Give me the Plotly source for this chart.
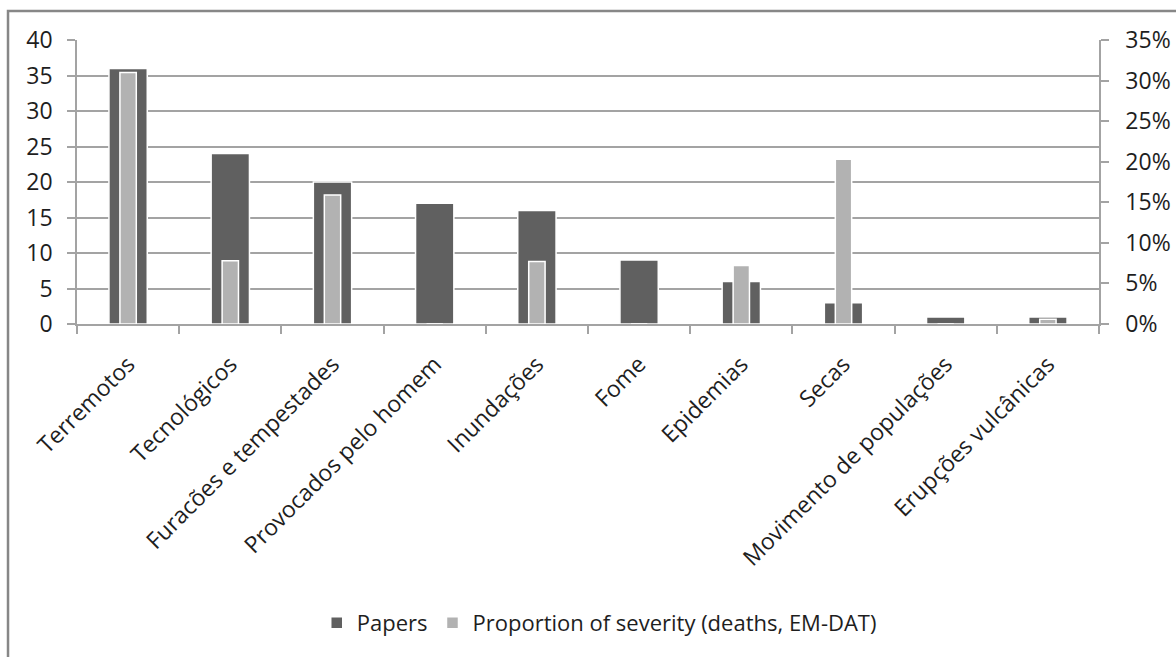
import plotly.graph_objects as go

categories = [
    "Terremotos", "Tecnológicos", "Furacões e tempestades", "Provocados pelo homem",
    "Inundações", "Fome", "Epidemias", "Secas", "Movimento de populações",
    "Erupções vulcânicas",
]
papers = [36, 24, 20, 17, 16, 9, 6, 3, 1, 1]
severity = [0.31, 0.078, 0.159, 0, 0.077, 0, 0.072, 0.203, 0, 0.006]

left_ticks = [0, 5, 10, 15, 20, 25, 30, 35, 40]
right_ticks = [0, 0.05, 0.10, 0.15, 0.20, 0.25, 0.30, 0.35]

FONT = "Open Sans"
AXIS_GREY = "#a3a3a3"
TEXT = "#1e1e1e"
TICK_SIZE = 23

fig = go.Figure()
fig.add_trace(go.Bar(
    x=categories, y=papers, name="Papers", yaxis="y",
    width=0.375, marker=dict(color="#606060", line=dict(color="white", width=1.5)),
))
fig.add_trace(go.Bar(
    x=categories, y=severity, name="Proportion of severity (deaths, EM-DAT)", yaxis="y2",
    width=0.16, marker=dict(color="#b2b2b2", line=dict(color="white", width=1.5)),
))

fig.update_layout(
    width=1176, height=657,
    margin=dict(l=77, r=77, t=40, b=333, autoexpand=False),
    paper_bgcolor="white", plot_bgcolor="white",
    barmode="overlay",
    font=dict(family=FONT, size=TICK_SIZE, color=TEXT),
    showlegend=True,
    legend=dict(
        orientation="h", x=0.511, xanchor="center", y=-1.053, yanchor="middle",
        font=dict(family=FONT, size=22, color=TEXT), itemwidth=30,
        bgcolor="rgba(0,0,0,0)",
    ),
    xaxis=dict(
        type="category", tickangle=-45, showgrid=False, automargin=False,
        showline=True, linecolor=AXIS_GREY, linewidth=1.5,
        ticks="outside", tickson="boundaries", ticklen=8, tickcolor=AXIS_GREY, tickwidth=1.5,
        tickfont=dict(family=FONT, size=TICK_SIZE, color=TEXT),
        ticklabelstandoff=16,
    ),
    yaxis=dict(
        range=[0, 40], tickvals=left_ticks, showgrid=True, gridcolor=AXIS_GREY, gridwidth=1.5,
        showline=True, linecolor=AXIS_GREY, linewidth=1.5, automargin=False,
        ticks="outside", ticklen=8, tickcolor=AXIS_GREY, tickwidth=1.5,
        tickfont=dict(family=FONT, size=TICK_SIZE, color=TEXT), zeroline=False,
        ticklabelstandoff=10,
    ),
    yaxis2=dict(
        range=[0, 0.35], tickvals=right_ticks, tickformat=".0%", overlaying="y", side="right",
        showgrid=False, showline=True, linecolor=AXIS_GREY, linewidth=1.5, automargin=False,
        ticks="outside", ticklen=8, tickcolor=AXIS_GREY, tickwidth=1.5,
        tickfont=dict(family=FONT, size=TICK_SIZE, color=TEXT), zeroline=False,
        ticklabelstandoff=12,
    ),
)

# chart frame (top and left edges fall inside the page)
fig.add_shape(
    type="rect", xref="paper", yref="paper",
    x0=-0.0675, x1=1.2, y0=1.102, y1=-1.3,
    line=dict(color="#878787", width=2.5), fillcolor="rgba(0,0,0,0)", layer="below",
)

fig.write_html("out.html")
